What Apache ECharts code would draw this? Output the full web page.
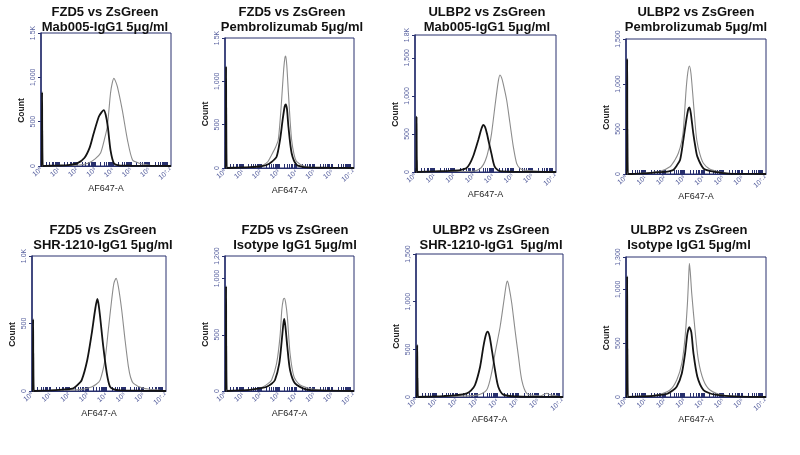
<!DOCTYPE html>
<html><head><meta charset="utf-8">
<script src="https://cdn.jsdelivr.net/npm/echarts@6/dist/echarts.min.js"></script>
<style>html,body{margin:0;padding:0;background:#fff}#c{width:800px;height:455px}</style>
</head><body><div id="c"></div>
<script>
const titleLine1 = ['FZD5 vs ZsGreen','FZD5 vs ZsGreen','ULBP2 vs ZsGreen','ULBP2 vs ZsGreen','FZD5 vs ZsGreen','FZD5 vs ZsGreen','ULBP2 vs ZsGreen','ULBP2 vs ZsGreen'];
const titleLine2 = ['Mab005-IgG1 5μg/ml','Pembrolizumab 5μg/ml','Mab005-IgG1 5μg/ml','Pembrolizumab 5μg/ml','SHR-1210-IgG1 5μg/ml','Isotype IgG1 5μg/ml','SHR-1210-IgG1  5μg/ml','Isotype IgG1 5μg/ml'];
const yMax = [1500,1500,1800,1500,1000,1200,1500,1300];
const yTickValues = [[0,500,1000,1500],[0,500,1000,1500],[0,500,1000,1500,1800],[0,500,1000,1500],[0,500,1000],[0,500,1000,1200],[0,500,1000,1500],[0,500,1000,1300]];
const yTickLabels = [['0','500','1,000','1.5K'],['0','500','1,000','1.5K'],['0','500','1,000','1,500','1.8K'],['0','500','1,000','1,500'],['0','500','1.0K'],['0','500','1,000','1,200'],['0','500','1,000','1,500'],['0','500','1,000','1,300']];
const xTickValues = [0,1,2,3,4,5,6,7.2];
const xTickLabels = ['10⁰','10¹','10²','10³','10⁴','10⁵','10⁶','10⁷·²'];
const xName = 'AF647-A';
const yName = 'Count';

const p1Black = [[0,0],[0.04,0],[0.06,830],[0.09,0],[0.5,3],[1.0,5],[1.5,10],[2.0,30],[2.4,90],[2.7,210],[2.92,370],[3.2,556],[3.35,605],[3.47,630],[3.58,580],[3.7,443],[3.85,180],[4.04,30],[4.3,8],[5,3],[6,2],[7.2,0]];
const p1Gray = [[0,0],[0.07,0],[0.09,400],[0.12,0],[1,3],[2,8],[2.6,30],[3.0,80],[3.3,146],[3.5,290],[3.67,443],[3.85,820],[3.95,940],[4.04,990],[4.12,960],[4.23,895],[4.5,632],[4.79,293],[5.07,68],[5.4,35],[5.7,20],[6.2,5],[7.2,0]];
const p2Black = [[0,0],[0.04,0],[0.06,1170],[0.09,0],[0.8,5],[1.4,10],[2.0,20],[2.32,35],[2.6,70],[2.88,130],[3.07,323],[3.22,560],[3.33,710],[3.39,735],[3.46,680],[3.54,477],[3.72,170],[4.0,35],[4.4,10],[4.8,5],[6,2],[7.2,0]];
const p2Gray = [[0,0],[0.07,0],[0.09,700],[0.12,0],[1,5],[1.8,15],[2.14,35],[2.4,75],[2.6,150],[2.8,230],[2.97,323],[3.08,560],[3.16,785],[3.28,1150],[3.35,1280],[3.39,1292],[3.45,1180],[3.54,862],[3.63,560],[3.72,323],[3.85,160],[4.0,73],[4.5,15],[5.2,5],[7.2,0]];
const p3Black = [[0,0],[0.06,0],[0.08,727],[0.11,0],[1,8],[1.79,15],[2.3,25],[2.62,48],[2.8,110],[2.96,200],[3.1,310],[3.23,420],[3.4,574],[3.49,618],[3.58,590],[3.67,508],[3.78,380],[3.9,245],[4.07,70],[4.34,10],[5,3],[7.2,0]];
const p3Gray = [[0,0],[0.09,0],[0.11,150],[0.14,0],[1.5,5],[2.96,10],[3.3,40],[3.5,100],[3.66,200],[3.8,350],[3.91,508],[4.08,858],[4.25,1187],[4.34,1275],[4.42,1240],[4.5,1165],[4.68,946],[4.85,640],[5.02,333],[5.19,114],[5.35,50],[5.53,26],[6.37,10],[7.2,0]];
const p4Black = [[0,0],[0.04,0],[0.06,1280],[0.09,0],[1,8],[1.75,20],[2.2,30],[2.43,44],[2.6,90],[2.78,155],[2.95,378],[3.1,600],[3.2,720],[3.26,741],[3.33,680],[3.46,452],[3.57,300],[3.67,193],[3.98,63],[4.3,35],[4.67,20],[5.2,5],[6,2],[7.2,0]];
const p4Gray = [[0,0],[0.07,0],[0.09,500],[0.12,0],[1,10],[1.75,30],[2.26,81],[2.5,150],[2.69,230],[2.85,350],[2.95,489],[3.09,933],[3.18,1130],[3.26,1200],[3.34,1120],[3.43,897],[3.54,600],[3.64,378],[3.8,220],[3.98,119],[4.3,55],[4.67,30],[5.2,10],[6,3],[7.2,0]];
const p5Black = [[0,0],[0.04,0],[0.06,530],[0.09,0],[1.0,5],[1.8,12],[2.22,20],[2.45,45],[2.67,81],[2.97,230],[3.21,427],[3.39,600],[3.51,682],[3.58,640],[3.66,550],[3.83,328],[4.02,131],[4.19,32],[4.4,12],[4.73,5],[6,2],[7.2,0]];
const p5Gray = [[0,0],[0.07,0],[0.09,280],[0.12,0],[1.5,5],[2.58,10],[3.2,30],[3.45,50],[3.66,81],[3.92,230],[4.1,452],[4.28,674],[4.4,798],[4.52,835],[4.64,773],[4.82,600],[5.0,378],[5.18,180],[5.3,100],[5.45,57],[5.99,20],[6.87,5],[7.2,0]];
const p6Black = [[0,0],[0.04,0],[0.06,930],[0.09,0],[0.8,5],[1.4,10],[2.0,25],[2.33,38],[2.6,65],[2.79,98],[3.03,246],[3.17,453],[3.26,600],[3.31,640],[3.38,560],[3.48,391],[3.63,187],[3.91,68],[4.5,15],[5.3,5],[7.2,0]];
const p6Gray = [[0,0],[0.07,0],[0.09,400],[0.12,0],[1,5],[1.8,20],[2.14,38],[2.4,65],[2.6,98],[2.88,246],[3.07,483],[3.17,720],[3.25,810],[3.31,824],[3.38,790],[3.48,660],[3.63,335],[3.85,127],[4.19,53],[4.93,15],[5.6,5],[7.2,0]];
const p7Black = [[0,0],[0.04,0],[0.06,545],[0.09,0],[0.8,5],[1.35,10],[2.0,20],[2.49,39],[2.7,70],[2.89,126],[3.14,318],[3.3,528],[3.42,650],[3.51,685],[3.6,640],[3.69,528],[3.87,283],[4.03,108],[4.28,25],[4.9,5],[6,2],[7.2,0]];
const p7Gray = [[0,0],[0.07,0],[0.09,200],[0.12,0],[1.5,5],[3.0,20],[3.46,73],[3.7,250],[3.87,458],[4.12,737],[4.31,1017],[4.42,1180],[4.48,1217],[4.56,1150],[4.69,983],[4.85,703],[5.02,423],[5.18,178],[5.42,39],[5.8,15],[6.08,10],[6.3,30],[6.41,40],[6.55,25],[7.0,5],[7.2,0]];
const p8Black = [[0,0],[0.04,0],[0.06,1120],[0.09,0],[0.8,5],[1.23,8],[1.7,18],[2.09,28],[2.4,60],[2.61,96],[2.87,219],[3.04,406],[3.16,590],[3.26,648],[3.36,600],[3.47,406],[3.67,189],[3.98,65],[4.3,35],[4.67,20],[5.5,5],[7.2,0]];
const p8Gray = [[0,0],[0.07,0],[0.09,450],[0.12,0],[1,8],[1.58,15],[2.26,65],[2.61,158],[2.87,313],[3.04,560],[3.16,871],[3.22,1100],[3.26,1242],[3.31,1150],[3.38,964],[3.55,622],[3.72,344],[3.98,158],[4.32,65],[5.0,15],[5.8,5],[7.2,0]];

const blackSeries = [p1Black,p2Black,p3Black,p4Black,p5Black,p6Black,p7Black,p8Black];
const graySeries = [p1Gray,p2Gray,p3Gray,p4Gray,p5Gray,p6Gray,p7Gray,p8Gray];

// layout
const grids = [
  {left:41,top:33,width:130,height:133},
  {left:225,top:38,width:129,height:130},
  {left:415,top:35,width:141,height:137},
  {left:626,top:39,width:140,height:135},
  {left:32,top:256,width:134,height:135},
  {left:225,top:256,width:129,height:135},
  {left:416,top:254,width:147,height:143},
  {left:626,top:257,width:140,height:140}
];
const titlePos = [[105,12],[292,12],[487,12],[696,12],[103,230],[295,230],[491,230],[689,230]];

const minorTicks = [];
for (let n = 0; n < 7; n++) for (let k = 1; k <= 9; k++) minorTicks.push(n + Math.log10(k));
minorTicks.push(7);

const navy = '#28306e';
const tickColor = '#5a63a0';
const font = "'Liberation Sans', Arial, sans-serif";

const option = {
  animation: false,
  backgroundColor: '#fff',
  grid: grids.map(g => Object.assign({show:true, borderColor:navy, borderWidth:1, containLabel:false}, g)),
  xAxis: grids.map((g,i) => ({
    type:'value', gridIndex:i, min:0, max:7.2,
    name: xName, nameLocation:'middle', nameGap:14,
    nameTextStyle:{fontFamily:font, fontSize:9, color:'#222'},
    axisLine:{show:true, lineStyle:{color:navy, width:1}},
    axisTick:{show:true, inside:true, length:4, customValues:minorTicks, lineStyle:{color:navy, width:1}},
    axisLabel:{show:true, customValues:xTickValues, rotate:40, fontSize:7, margin:3, color:tickColor, fontFamily:font,
      formatter: v => { const j = xTickValues.indexOf(v); return j >= 0 ? xTickLabels[j] : ''; }},
    splitLine:{show:false}
  })),
  yAxis: grids.map((g,i) => ({
    type:'value', gridIndex:i, min:0, max:yMax[i],
    name: yName, nameLocation:'middle', nameGap:15,
    nameTextStyle:{fontFamily:font, fontSize:8.5, fontWeight:'bold', color:'#222', padding:[0,22,0,0]},
    axisLine:{show:true, lineStyle:{color:navy, width:1.5}},
    axisTick:{show:true, length:3, customValues:yTickValues[i], lineStyle:{color:navy}},
    axisLabel:{show:true, customValues:yTickValues[i], rotate:90, fontSize:7, margin:4, color:tickColor, fontFamily:font,
      formatter: v => { const j = yTickValues[i].indexOf(v); return j >= 0 ? yTickLabels[i][j] : ''; }},
    splitLine:{show:false}
  })),
  series: [].concat(
    graySeries.map((d,i) => ({type:'line', xAxisIndex:i, yAxisIndex:i, data:d, showSymbol:false, smooth:0.25,
      lineStyle:{color:'#8c8c8c', width:1.1}, z:2})),
    blackSeries.map((d,i) => ({type:'line', xAxisIndex:i, yAxisIndex:i, data:d, showSymbol:false, smooth:0.25,
      lineStyle:{color:'#141414', width:1.8}, z:3}))
  ),
  graphic: [].concat(
    titlePos.map((p,i) => ({type:'text', x:p[0], y:p[1], style:{text:titleLine1[i], align:'center', verticalAlign:'middle',
      font:"bold 13px 'Liberation Sans', Arial, sans-serif", fill:'#111'}})),
    titlePos.map((p,i) => ({type:'text', x:p[0], y:p[1]+15.5, style:{text:titleLine2[i], align:'center', verticalAlign:'middle',
      font:"bold 13px 'Liberation Sans', Arial, sans-serif", fill:'#111'}}))
  )
};
const chart = echarts.init(document.getElementById('c'), null, {renderer:'canvas'});
chart.setOption(option);
</script></body></html>
